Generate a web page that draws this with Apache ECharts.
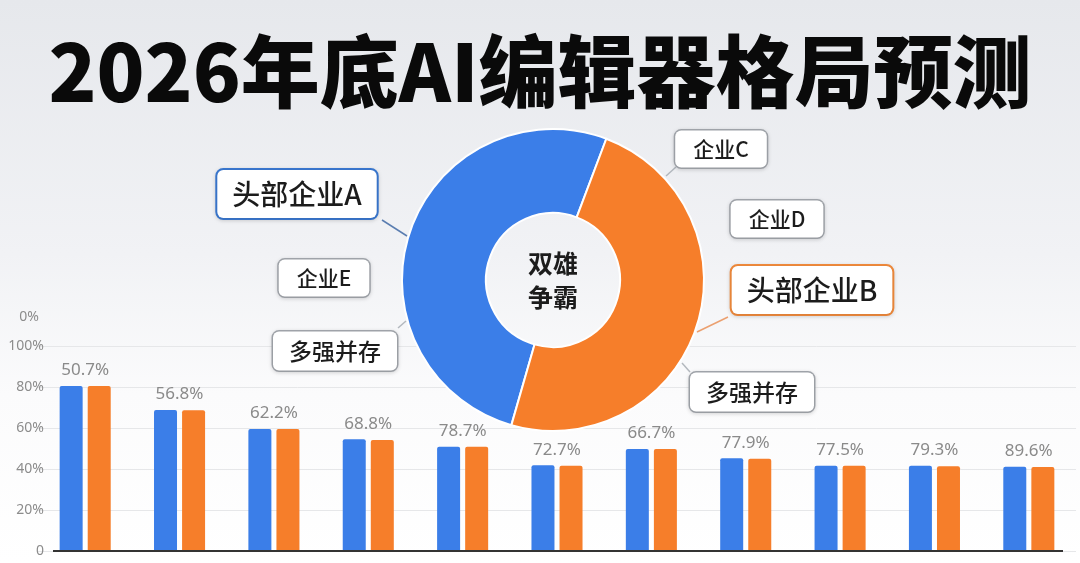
<!DOCTYPE html>
<html>
<head>
<meta charset="utf-8">
<script src="https://cdn.jsdelivr.net/npm/echarts@6/dist/echarts.min.js"></script>
<style>
  html, body { margin: 0; padding: 0; }
  #chart { width: 1080px; height: 563px; }
</style>
</head>
<body>
<div id="chart"></div>
<script>
// bar groups (no x labels in the picture)
const groups = ['1', '2', '3', '4', '5', '6', '7', '8', '9', '10', '11'];
const blueValues = [80.5, 68.8, 59.5, 54.5, 50.9, 41.8, 49.8, 45.2, 41.6, 41.6, 41.1];
const orangeValues = [80.5, 68.6, 59.5, 54.2, 50.8, 41.6, 49.7, 45.0, 41.6, 41.3, 41.0];
const barLabels = ['50.7%', '56.8%', '62.2%', '68.8%', '78.7%', '72.7%', '66.7%', '77.9%', '77.5%', '79.3%', '89.6%'];

// donut
const pieNames = ['头部企业A', '头部企业B'];
const pieValues = [51.3, 48.7];
const centerText = '双雄\n争霸';

// callout boxes round the donut
const calloutNames = ['头部企业A', '企业E', '多强并存', '企业C', '企业D', '头部企业B', '多强并存'];

const BLUE = '#3b7ee8';
const ORANGE = '#f67e2a';
const FONT = '"Noto Sans CJK SC", "Noto Sans", sans-serif';

// layout of the callouts: centre, font size, padding, border colour
const calloutLayout = [
    { x: 297, y: 194, size: 28, pad: [10, 15], border: '#3a78d0', bw: 2 },
    { x: 324, y: 278, size: 21, pad: [8, 18], border: '#a3a7ad', bw: 1.5 },
    { x: 335, y: 351, size: 23, pad: [8, 16], border: '#a3a7ad', bw: 1.5 },
    { x: 721, y: 149, size: 21, pad: [8, 18], border: '#a3a7ad', bw: 1.5 },
    { x: 777, y: 219, size: 21, pad: [8, 18], border: '#a3a7ad', bw: 1.5 },
    { x: 812, y: 290, size: 28, pad: [10, 15], border: '#f08a3c', bw: 2 },
    { x: 752, y: 392, size: 23, pad: [8, 16], border: '#a3a7ad', bw: 1.5 }
];

// leader lines from boxes to the ring
const leaderLines = [
    { from: [382, 220], to: [407, 236], color: '#5a7db0' },
    { from: [398, 328], to: [406, 321], color: '#b3b8be' },
    { from: [676, 167], to: [666, 176], color: '#b3b8be' },
    { from: [728, 317], to: [697, 332], color: '#eba070' },
    { from: [690, 372], to: [682, 363], color: '#b3b8be' }
];

const graphics = [];
// base line of the bar chart, a bit shorter than the grid
graphics.push({
    type: 'line',
    z: 50,
    shape: { x1: 53, y1: 551, x2: 1063, y2: 551 },
    style: { stroke: '#333', lineWidth: 2 }
});
leaderLines.forEach(l => {
    graphics.push({
        type: 'line',
        z: 100,
        shape: { x1: l.from[0], y1: l.from[1], x2: l.to[0], y2: l.to[1] },
        style: { stroke: l.color, lineWidth: 1.5 }
    });
});
calloutNames.forEach((name, i) => {
    const c = calloutLayout[i];
    graphics.push({
        type: 'text',
        z: 110,
        x: c.x,
        y: c.y,
        style: {
            text: name,
            font: '500 ' + c.size + 'px ' + FONT,
            fill: '#1c1c1c',
            align: 'center',
            verticalAlign: 'middle',
            backgroundColor: '#ffffff',
            borderColor: c.border,
            borderWidth: c.bw,
            borderRadius: 6,
            padding: c.pad,
            shadowBlur: 4,
            shadowOffsetY: 1,
            shadowColor: 'rgba(0,0,0,0.12)'
        }
    });
});
// centre text of the ring
graphics.push({
    type: 'text',
    z: 110,
    x: 553,
    y: 280,
    style: {
        text: centerText,
        font: 'bold 25px ' + FONT,
        lineHeight: 34,
        fill: '#1c1c1c',
        align: 'center',
        verticalAlign: 'middle'
    }
});
// stray top label on the y axis
graphics.push({
    type: 'text',
    x: 39,
    y: 317,
    style: {
        text: '0%',
        font: '14px "Noto Sans", sans-serif',
        fill: '#8c8c8c',
        align: 'right',
        verticalAlign: 'middle'
    }
});

const myChart = echarts.init(document.getElementById('chart'));

myChart.setOption({
    backgroundColor: new echarts.graphic.LinearGradient(0, 0, 0, 1, [
        { offset: 0, color: '#e6e8ec' },
        { offset: 0.45, color: '#f1f2f5' },
        { offset: 0.7, color: '#fbfbfc' },
        { offset: 1, color: '#ffffff' }
    ]),
    animation: false,
    title: {
        text: '2026年底AI编辑器格局预测',
        left: 'center',
        top: 27,
        textStyle: {
            fontFamily: FONT,
            fontSize: 79,
            lineHeight: 79,
            fontWeight: 900,
            color: '#0a0a0a'
        }
    },
    grid: {
        left: 38,
        right: 4,
        top: 346,
        bottom: 12
    },
    xAxis: {
        type: 'category',
        data: groups,
        axisLine: { show: false },
        axisTick: { show: false },
        axisLabel: { show: false }
    },
    yAxis: {
        type: 'value',
        min: 0,
        max: 100,
        interval: 20,
        axisLine: { show: false },
        axisTick: { show: false },
        axisLabel: {
            margin: -6,
            fontSize: 14,
            fontFamily: '"Noto Sans", sans-serif',
            color: '#8c8c8c',
            formatter: v => (v === 0 ? '0' : v + '%')
        },
        splitLine: { lineStyle: { color: '#e6e7e9', width: 1 } }
    },
    series: [
        {
            name: 'blue',
            type: 'bar',
            data: blueValues,
            barWidth: 23,
            barGap: '22%',
            itemStyle: { color: BLUE, borderRadius: [2, 2, 0, 0] },
            label: {
                show: true,
                position: 'top',
                distance: 7,
                offset: [14, 0],
                fontSize: 17,
                fontFamily: '"Noto Sans", sans-serif',
                color: '#8a8a8a',
                formatter: p => barLabels[p.dataIndex]
            }
        },
        {
            name: 'orange',
            type: 'bar',
            data: orangeValues,
            barWidth: 23,
            barGap: '22%',
            itemStyle: { color: ORANGE, borderRadius: [2, 2, 0, 0] }
        },
        {
            type: 'pie',
            center: [553, 280],
            radius: [67, 151],
            startAngle: 254,
            silent: true,
            label: { show: false },
            labelLine: { show: false },
            itemStyle: { borderColor: '#ffffff', borderWidth: 2 },
            data: pieNames.map((n, i) => ({
                name: n,
                value: pieValues[i],
                itemStyle: { color: i === 0 ? BLUE : ORANGE }
            }))
        }
    ],
    graphic: { elements: graphics }
});
</script>
</body>
</html>
